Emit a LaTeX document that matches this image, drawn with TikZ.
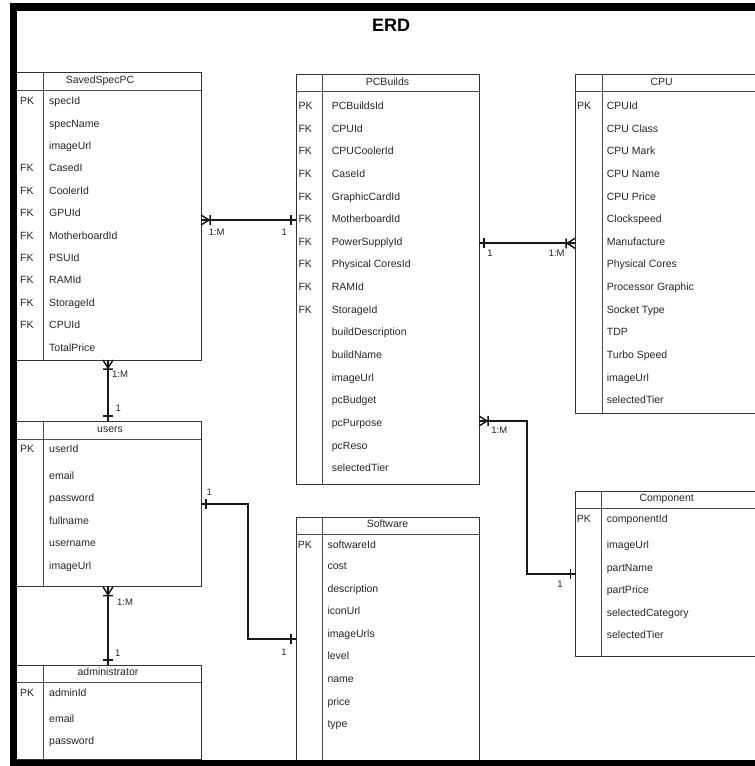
\documentclass[tikz,border=0pt]{standalone}
\usepackage{fontspec}
\setmainfont{Liberation Sans}
\usetikzlibrary{calc}
\tikzset{
 tbl/.style={draw=black!80, line width=0.9pt, anchor=north west, inner sep=0pt, outer sep=0pt},
 hdr/.style={draw=black!70, line width=1pt},
 fld/.style={anchor=west, inner sep=0pt, text=black!85, font=\fontsize{10.5}{12}\selectfont, text height=7.6pt, text depth=2.2pt},
 ttl/.style={anchor=center, inner sep=0pt, text=black!85, font=\fontsize{10.5}{12}\selectfont, text height=7.6pt, text depth=2.2pt},
 lbl/.style={anchor=center, inner sep=0pt, text=black!85, font=\fontsize{9.5}{11}\selectfont, text height=6.9pt, text depth=0pt},
 conn/.style={line width=1.8pt, draw=black!90},
 crow/.pic={\draw[line width=1.5pt, black!90] (0,-5) -- (8,0) -- (0,5) (0,0) -- (9,0) (9,-5) -- (9,5);},
 onebar/.pic={\draw[line width=1.5pt, black!90] (5,-5) -- (5,5);},
}
\begin{document}
\begin{tikzpicture}[x=1pt,y=-1pt]
\useasboundingbox (0,0) rectangle (755,766);
\node[anchor=center, inner sep=0pt, font=\bfseries\fontsize{18}{20}\selectfont] (title) at (391,25) {ERD};
\begin{scope}
\clip (17,11) rectangle (755,760);
% ---------- SavedSpecPC
\node[tbl, minimum width=201pt, minimum height=288pt] (saved) at (0,72) {};
\draw[hdr] (saved.west |- 0,90.7) -- (saved.east |- 0,90.7);
\draw[hdr] (43.7,0 |- saved.north) -- (43.7,0 |- saved.south);
\node[ttl] (savedt) at (100,80.5) {SavedSpecPC};
\foreach \t [count=\i] in {specId,specName,imageUrl,CasedI,CoolerId,GPUId,MotherboardId,PSUId,RAMId,StorageId,CPUId,TotalPrice}
  \node[fld] (savedf\i) at (49,{102+22.4*(\i-1)}) {\t};
\foreach \k/\i in {PK/1,FK/4,FK/5,FK/6,FK/7,FK/8,FK/9,FK/10,FK/11}
  \node[fld] (savedk\i) at (20,{102+22.4*(\i-1)}) {\k};
% ---------- PCBuilds
\node[tbl, minimum width=183pt, minimum height=410pt] (pc) at (296,74) {};
\draw[hdr] (pc.west |- 0,91.7) -- (pc.east |- 0,91.7);
\draw[hdr] (322,0 |- pc.north) -- (322,0 |- pc.south);
\node[ttl] (pct) at (387.5,82.7) {PCBuilds};
\foreach \t [count=\i] in {PCBuildsId,CPUId,CPUCoolerId,CaseId,GraphicCardId,MotherboardId,PowerSupplyId,Physical CoresId,RAMId,StorageId,buildDescription,buildName,imageUrl,pcBudget,pcPurpose,pcReso,selectedTier}
  \node[fld] (pcf\i) at (331.7,{106.7+22.65*(\i-1)}) {\t};
\foreach \k/\i in {PK/1,FK/2,FK/3,FK/4,FK/5,FK/6,FK/7,FK/8,FK/9,FK/10}
  \node[fld] (pck\i) at (298.3,{106.7+22.65*(\i-1)}) {\k};
% ---------- CPU
\node[tbl, minimum width=200pt, minimum height=339pt] (cpu) at (575,74) {};
\draw[hdr] (cpu.west |- 0,91.7) -- (cpu.east |- 0,91.7);
\draw[hdr] (602,0 |- cpu.north) -- (602,0 |- cpu.south);
\node[ttl] (cput) at (661.7,82.7) {CPU};
\foreach \t [count=\i] in {CPUId,CPU Class,CPU Mark,CPU Name,CPU Price,Clockspeed,Manufacture,Physical Cores,Processor Graphic,Socket Type,TDP,Turbo Speed,imageUrl,selectedTier}
  \node[fld] (cpuf\i) at (606.7,{106.7+22.65*(\i-1)}) {\t};
\node[fld] (cpuk1) at (577,106.7) {PK};
% ---------- users
\node[tbl, minimum width=201pt, minimum height=165.7pt] (users) at (0,421) {};
\draw[hdr] (users.west |- 0,439) -- (users.east |- 0,439);
\draw[hdr] (43.7,0 |- users.north) -- (43.7,0 |- users.south);
\node[ttl] (userst) at (110,430) {users};
\node[fld] (usersk1) at (20,450) {PK};
\foreach \t/\y [count=\i] in {userId/450,email/476.7,password/499,fullname/521.7,username/544,imageUrl/566.7}
  \node[fld] (usersf\i) at (49,\y) {\t};
% ---------- administrator
\node[tbl, minimum width=201pt, minimum height=94pt] (admin) at (0,665) {};
\draw[hdr] (admin.west |- 0,682.7) -- (admin.east |- 0,682.7);
\draw[hdr] (43.7,0 |- admin.north) -- (43.7,0 |- admin.south);
\node[ttl] (admint) at (108,673) {administrator};
\node[fld] (admink1) at (20,694) {PK};
\foreach \t/\y [count=\i] in {adminId/694,email/720,password/742}
  \node[fld] (adminf\i) at (49,\y) {\t};
% ---------- Software
\node[tbl, minimum width=183pt, minimum height=246pt] (sw) at (296,517) {};
\draw[hdr] (sw.west |- 0,534) -- (sw.east |- 0,534);
\draw[hdr] (322.3,0 |- sw.north) -- (322.3,0 |- sw.south);
\node[ttl] (swt) at (387.5,525) {Software};
\node[fld] (swk1) at (297.7,545.7) {PK};
\foreach \t/\y [count=\i] in {softwareId/545.7,cost/566.7,description/589.3,iconUrl/611.7,imageUrls/634.3,level/656.7,name/679.3,price/702.3,type/725}
  \node[fld] (swf\i) at (327.3,\y) {\t};
% ---------- Component
\node[tbl, minimum width=200pt, minimum height=165.7pt] (comp) at (575.7,491) {};
\draw[hdr] (comp.west |- 0,508.3) -- (comp.east |- 0,508.3);
\draw[hdr] (601.7,0 |- comp.north) -- (601.7,0 |- comp.south);
\node[ttl] (compt) at (666.7,499) {Component};
\node[fld] (compk1) at (576.7,520) {PK};
\foreach \t/\y [count=\i] in {componentId/520,imageUrl/545.7,partName/568.3,partPrice/590.7,selectedCategory/613.3,selectedTier/636}
  \node[fld] (compf\i) at (606.7,\y) {\t};
% ---------- connectors
\draw[conn] (saved.east |- 0,220) -- (pc.west |- 0,220);
\pic at (saved.east |- 0,220) {crow};
\pic[rotate=180] at (pc.west |- 0,220) {onebar};
\node[lbl] (l1a) at (216.7,231.7) {1:M};
\node[lbl] (l1b) at (284.3,231.7) {1};

\draw[conn] (pc.east |- 0,243.3) -- (cpu.west |- 0,243.3);
\pic at (pc.east |- 0,243.3) {onebar};
\pic[rotate=180] at (cpu.west |- 0,243.3) {crow};
\node[lbl] (l2a) at (490,253.3) {1};
\node[lbl] (l2b) at (556.7,253.3) {1:M};

\draw[conn] (108,0 |- saved.south) -- (108,0 |- users.north);
\pic[rotate=-90] at (108,0 |- saved.south) {crow};
\pic[rotate=90] at (108,0 |- users.north) {onebar};
\node[lbl] (l3a) at (120,374.3) {1:M};
\node[lbl] (l3b) at (118.3,408.3) {1};

\draw[conn] (108,0 |- users.south) -- (108,0 |- admin.north);
\pic[rotate=-90] at (108,0 |- users.south) {crow};
\pic[rotate=90] at (108,0 |- admin.north) {onebar};
\node[lbl] (l4a) at (125,602.3) {1:M};
\node[lbl] (l4b) at (117.7,653.3) {1};

\coordinate (e5) at (248.3,639.3);
\draw[conn] (users.east |- 0,504) -| (e5) -- (sw.west |- e5);
\pic at (users.east |- 0,504) {onebar};
\pic[rotate=180] at (sw.west |- e5) {onebar};
\node[lbl] (l5a) at (209.3,491.7) {1};
\node[lbl] (l5b) at (284,652.3) {1};

\coordinate (e6) at (527.3,574);
\draw[conn] (pc.east |- 0,421) -| (e6) -- (comp.west |- e6);
\pic at (pc.east |- 0,421) {crow};
\pic[rotate=180] at (comp.west |- e6) {onebar};
\node[lbl] (l6a) at (499.3,430) {1:M};
\node[lbl] (l6b) at (560,584) {1};
\end{scope}
% ---------- frame
\fill[black] (10,3) rectangle (755,11);
\fill[black] (10,3) rectangle (17,766);
\fill[black] (10,760) rectangle (755,766);
\end{tikzpicture}
\end{document}
